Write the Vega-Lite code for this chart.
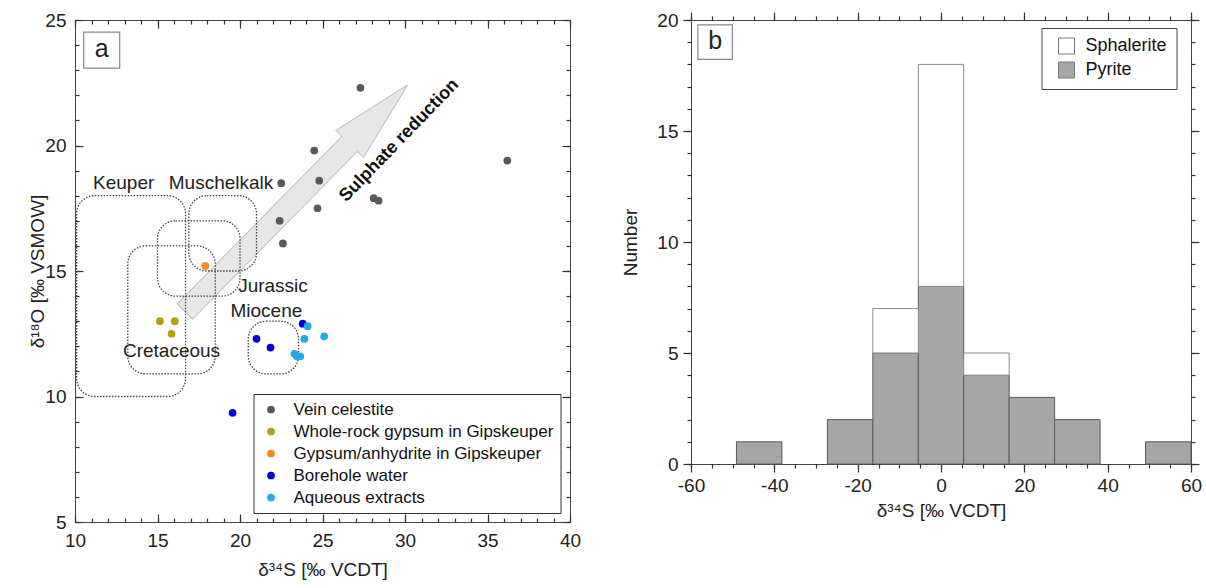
{
  "$schema": "https://vega.github.io/schema/vega-lite/v6.json",
  "background": "white",
  "padding": {"left": 28, "top": 10, "right": 5, "bottom": 5},
  "spacing": 39,
  "config": {
    "font": "Liberation Sans",
    "view": {"stroke": "#444", "strokeWidth": 1},
    "axis": {"grid": false, "domain": false, "labelFontSize": 19, "labelColor": "#222", "titleFontSize": 19, "titleFontWeight": "normal", "titleColor": "#222", "labelFlush": false, "labelOverlap": false}
  },
  "datasets": {
    "points": [
      {"d34S": 27.3, "d18O": 22.3, "group": "Vein celestite"},
      {"d34S": 24.5, "d18O": 19.8, "group": "Vein celestite"},
      {"d34S": 36.2, "d18O": 19.4, "group": "Vein celestite"},
      {"d34S": 22.5, "d18O": 18.5, "group": "Vein celestite"},
      {"d34S": 24.8, "d18O": 18.6, "group": "Vein celestite"},
      {"d34S": 28.1, "d18O": 17.9, "group": "Vein celestite"},
      {"d34S": 28.4, "d18O": 17.8, "group": "Vein celestite"},
      {"d34S": 24.7, "d18O": 17.5, "group": "Vein celestite"},
      {"d34S": 22.4, "d18O": 17.0, "group": "Vein celestite"},
      {"d34S": 22.6, "d18O": 16.1, "group": "Vein celestite"},
      {"d34S": 15.15, "d18O": 13.0, "group": "Whole-rock gypsum in Gipskeuper"},
      {"d34S": 16.05, "d18O": 13.0, "group": "Whole-rock gypsum in Gipskeuper"},
      {"d34S": 15.85, "d18O": 12.5, "group": "Whole-rock gypsum in Gipskeuper"},
      {"d34S": 17.9, "d18O": 15.2, "group": "Gypsum/anhydrite in Gipskeuper"},
      {"d34S": 23.8, "d18O": 12.9, "group": "Borehole water"},
      {"d34S": 21.0, "d18O": 12.3, "group": "Borehole water"},
      {"d34S": 21.85, "d18O": 11.95, "group": "Borehole water"},
      {"d34S": 19.55, "d18O": 9.35, "group": "Borehole water"},
      {"d34S": 24.1, "d18O": 12.8, "group": "Aqueous extracts"},
      {"d34S": 23.9, "d18O": 12.3, "group": "Aqueous extracts"},
      {"d34S": 25.1, "d18O": 12.4, "group": "Aqueous extracts"},
      {"d34S": 23.3, "d18O": 11.7, "group": "Aqueous extracts"},
      {"d34S": 23.45, "d18O": 11.6, "group": "Aqueous extracts"},
      {"d34S": 23.65, "d18O": 11.6, "group": "Aqueous extracts"}
    ],
    "regions": [
      {"name": "Keuper", "s_lo": 10.1, "s_hi": 16.7, "o_lo": 10.0, "o_hi": 18.0},
      {"name": "Muschelkalk", "s_lo": 16.9, "s_hi": 21.0, "o_lo": 15.0, "o_hi": 18.0},
      {"name": "Jurassic", "s_lo": 15.0, "s_hi": 20.0, "o_lo": 14.0, "o_hi": 17.0},
      {"name": "Cretaceous", "s_lo": 13.2, "s_hi": 18.5, "o_lo": 10.9, "o_hi": 16.0},
      {"name": "Miocene", "s_lo": 20.5, "s_hi": 23.55, "o_lo": 10.9, "o_hi": 13.0}
    ],
    "regionLabels": [
      {"label": "Keuper", "d34S": 12.95, "d18O": 18.5},
      {"label": "Muschelkalk", "d34S": 18.85, "d18O": 18.5},
      {"label": "Jurassic", "d34S": 22.0, "d18O": 14.4},
      {"label": "Miocene", "d34S": 21.6, "d18O": 13.4},
      {"label": "Cretaceous", "d34S": 15.85, "d18O": 11.8}
    ],
    "arrow": [{"d34S": 23.41, "d18O": 17.9}],
    "arrowText": [{"label": "Sulphate reduction", "d34S": 29.65, "d18O": 20.2}],
    "tagA": [{"tag": "a", "d34S": 11.62, "d18O": 23.8}],
    "hist": [
      {"bin_lo": -49.09, "bin_hi": -38.18, "mineral": "Pyrite", "count": 1},
      {"bin_lo": -27.27, "bin_hi": -16.36, "mineral": "Pyrite", "count": 2},
      {"bin_lo": -16.36, "bin_hi": -5.45, "mineral": "Pyrite", "count": 5},
      {"bin_lo": -16.36, "bin_hi": -5.45, "mineral": "Sphalerite", "count": 2},
      {"bin_lo": -5.45, "bin_hi": 5.45, "mineral": "Pyrite", "count": 8},
      {"bin_lo": -5.45, "bin_hi": 5.45, "mineral": "Sphalerite", "count": 10},
      {"bin_lo": 5.45, "bin_hi": 16.36, "mineral": "Pyrite", "count": 4},
      {"bin_lo": 5.45, "bin_hi": 16.36, "mineral": "Sphalerite", "count": 1},
      {"bin_lo": 16.36, "bin_hi": 27.27, "mineral": "Pyrite", "count": 3},
      {"bin_lo": 27.27, "bin_hi": 38.18, "mineral": "Pyrite", "count": 2},
      {"bin_lo": 49.09, "bin_hi": 60, "mineral": "Pyrite", "count": 1}
    ],
    "tagB": [{"tag": "b", "d34S": -54.2, "n": 19.0}]
  },
  "hconcat": [
    {
      "width": 495,
      "height": 502,
      "resolve": {"axis": {"x": "independent", "y": "independent"}},
      "layer": [
        {
          "data": {"name": "arrow"},
          "mark": {"type": "point", "shape": "M-1,-0.068L0.48,-0.068L0.48,-0.122L1,0L0.48,0.122L0.48,0.068L-1,0.068Z", "size": 100870, "angle": -45.5, "filled": true, "fill": "#e4e4e4", "fillOpacity": 0.9, "stroke": "#c0c0c0", "strokeWidth": 1, "opacity": 1},
          "encoding": {
            "x": {"field": "d34S", "type": "quantitative", "scale": {"domain": [10, 40], "nice": false, "zero": false},
                  "axis": {"orient": "bottom", "values": [10, 15, 20, 25, 30, 35, 40], "ticks": false, "labelPadding": 9, "title": "δ³⁴S [‰ VCDT]", "titlePadding": 10}},
            "y": {"field": "d18O", "type": "quantitative", "scale": {"domain": [5, 25], "nice": false, "zero": false},
                  "axis": {"orient": "left", "values": [5, 10, 15, 20, 25], "ticks": false, "labelPadding": 9, "title": "δ¹⁸O [‰ VSMOW]", "titlePadding": -3}}
          }
        },
        {
          "data": {"name": "regions"},
          "mark": {"type": "rect", "filled": false, "stroke": "#444", "strokeWidth": 1.3, "strokeDash": [1.5, 1.5], "cornerRadius": 18},
          "encoding": {
            "x": {"field": "s_lo", "type": "quantitative", "scale": {"domain": [10, 40], "nice": false, "zero": false},
                  "axis": {"orient": "bottom", "values": [10, 15, 20, 25, 30, 35, 40], "labels": false, "title": null, "tickColor": "#333", "tickWidth": 1.2, "tickSize": -8}},
            "x2": {"field": "s_hi"},
            "y": {"field": "o_lo", "type": "quantitative", "scale": {"domain": [5, 25], "nice": false, "zero": false},
                  "axis": {"orient": "left", "values": [5, 10, 15, 20, 25], "labels": false, "title": null, "tickColor": "#333", "tickWidth": 1.2, "tickSize": -8}},
            "y2": {"field": "o_hi"}
          }
        },
        {
          "data": {"name": "regionLabels"},
          "mark": {"type": "text", "fontSize": 19, "color": "#222", "align": "center", "baseline": "middle"},
          "encoding": {
            "x": {"field": "d34S", "type": "quantitative", "scale": {"domain": [10, 40], "nice": false, "zero": false},
                  "axis": {"orient": "bottom", "values": [10,11,12,13,14,15,16,17,18,19,20,21,22,23,24,25,26,27,28,29,30,31,32,33,34,35,36,37,38,39,40], "labels": false, "title": null, "tickColor": "#333", "tickWidth": 1.2, "tickSize": -4}},
            "y": {"field": "d18O", "type": "quantitative", "scale": {"domain": [5, 25], "nice": false, "zero": false},
                  "axis": {"orient": "left", "values": [5,6,7,8,9,10,11,12,13,14,15,16,17,18,19,20,21,22,23,24,25], "labels": false, "title": null, "tickColor": "#333", "tickWidth": 1.2, "tickSize": -4}},
            "text": {"field": "label"}
          }
        },
        {
          "data": {"name": "arrowText"},
          "mark": {"type": "text", "fontSize": 18, "fontWeight": "bold", "color": "#111", "angle": -46, "align": "center", "baseline": "middle"},
          "encoding": {
            "x": {"field": "d34S", "type": "quantitative", "scale": {"domain": [10, 40], "nice": false, "zero": false},
                  "axis": {"orient": "top", "values": [10, 15, 20, 25, 30, 35, 40], "labels": false, "title": null, "tickColor": "#333", "tickWidth": 1.2, "tickSize": -8}},
            "y": {"field": "d18O", "type": "quantitative", "scale": {"domain": [5, 25], "nice": false, "zero": false},
                  "axis": {"orient": "right", "values": [5, 10, 15, 20, 25], "labels": false, "title": null, "tickColor": "#333", "tickWidth": 1.2, "tickSize": -8}},
            "text": {"field": "label"}
          }
        },
        {
          "data": {"name": "points"},
          "mark": {"type": "circle", "size": 60, "opacity": 1},
          "encoding": {
            "x": {"field": "d34S", "type": "quantitative", "scale": {"domain": [10, 40], "nice": false, "zero": false},
                  "axis": {"orient": "top", "values": [10,11,12,13,14,15,16,17,18,19,20,21,22,23,24,25,26,27,28,29,30,31,32,33,34,35,36,37,38,39,40], "labels": false, "title": null, "tickColor": "#333", "tickWidth": 1.2, "tickSize": -4}},
            "y": {"field": "d18O", "type": "quantitative", "scale": {"domain": [5, 25], "nice": false, "zero": false},
                  "axis": {"orient": "right", "values": [5,6,7,8,9,10,11,12,13,14,15,16,17,18,19,20,21,22,23,24,25], "labels": false, "title": null, "tickColor": "#333", "tickWidth": 1.2, "tickSize": -4}},
            "color": {"field": "group", "type": "nominal",
                      "scale": {"domain": ["Vein celestite", "Whole-rock gypsum in Gipskeuper", "Gypsum/anhydrite in Gipskeuper", "Borehole water", "Aqueous extracts"],
                                "range": ["#595959", "#b5a00a", "#f58a1f", "#0000cc", "#22aae6"]},
                      "legend": {"orient": "none", "legendX": 178.5, "legendY": 374, "title": null, "strokeColor": "#333", "fillColor": "white", "padding": 7, "labelFontSize": 17, "labelColor": "#111", "symbolSize": 60, "symbolType": "circle", "rowPadding": 4, "labelOffset": 14, "symbolOffset": 2, "labelLimit": 400}}
          }
        },
        {
          "data": {"name": "tagA"},
          "mark": {"type": "point", "shape": "square", "size": 1296, "filled": true, "fill": "white", "stroke": "#888", "strokeWidth": 1.2, "opacity": 1},
          "encoding": {
            "x": {"field": "d34S", "type": "quantitative", "scale": {"domain": [10, 40], "nice": false, "zero": false}, "axis": null},
            "y": {"field": "d18O", "type": "quantitative", "scale": {"domain": [5, 25], "nice": false, "zero": false}, "axis": null}
          }
        },
        {
          "data": {"name": "tagA"},
          "mark": {"type": "text", "fontSize": 25, "color": "#222", "align": "center", "baseline": "middle", "dy": -1},
          "encoding": {
            "x": {"field": "d34S", "type": "quantitative", "scale": {"domain": [10, 40], "nice": false, "zero": false}, "axis": null},
            "y": {"field": "d18O", "type": "quantitative", "scale": {"domain": [5, 25], "nice": false, "zero": false}, "axis": null},
            "text": {"field": "tag"}
          }
        }
      ]
    },
    {
      "width": 500,
      "height": 444,
      "resolve": {"axis": {"x": "independent", "y": "independent"}},
      "layer": [
        {
          "data": {"name": "hist"},
          "transform": [
            {"stack": "count", "groupby": ["bin_lo"], "sort": [{"field": "mineral", "order": "ascending"}], "as": ["y0", "y1"]},
            {"filter": {"field": "mineral", "equal": "Pyrite"}}
          ],
          "mark": {"type": "bar", "stroke": "#5a5a5a", "strokeWidth": 1},
          "encoding": {
            "x": {"field": "bin_lo", "type": "quantitative", "scale": {"domain": [-60, 60], "nice": false, "zero": false},
                  "axis": {"orient": "bottom", "values": [-60, -40, -20, 0, 20, 40, 60], "tickColor": "#333", "tickWidth": 1.2, "tickSize": 8, "labelPadding": 4, "labelExpr": "'' + datum.value", "title": "δ³⁴S [‰ VCDT]", "titlePadding": 6}},
            "x2": {"field": "bin_hi"},
            "y": {"field": "y0", "type": "quantitative", "scale": {"domain": [0, 20], "nice": false, "zero": false},
                  "axis": {"orient": "left", "values": [0, 5, 10, 15, 20], "tickColor": "#333", "tickWidth": 1.2, "tickSize": 8, "labelPadding": 5, "title": "Number", "titlePadding": 16}},
            "y2": {"field": "y1"},
            "fill": {"field": "mineral", "type": "nominal", "scale": {"domain": ["Sphalerite", "Pyrite"], "range": ["#ffffff", "#a6a6a6"]},
                     "legend": {"orient": "none", "legendX": 966.5, "legendY": 8, "title": null, "strokeColor": "#444", "fillColor": "white", "padding": 9, "labelFontSize": 18, "labelColor": "#111", "symbolType": "square", "symbolSize": 256, "symbolStrokeColor": "#777", "symbolStrokeWidth": 1, "rowPadding": 4, "labelOffset": 10, "symbolOffset": 7}}
          }
        },
        {
          "data": {"name": "hist"},
          "transform": [
            {"stack": "count", "groupby": ["bin_lo"], "sort": [{"field": "mineral", "order": "ascending"}], "as": ["y0", "y1"]},
            {"filter": {"field": "mineral", "equal": "Sphalerite"}}
          ],
          "mark": {"type": "bar", "stroke": "#8a8a8a", "strokeWidth": 1},
          "encoding": {
            "x": {"field": "bin_lo", "type": "quantitative", "scale": {"domain": [-60, 60], "nice": false, "zero": false},
                  "axis": {"orient": "bottom", "values": [-60,-55,-50,-45,-40,-35,-30,-25,-20,-15,-10,-5,0,5,10,15,20,25,30,35,40,45,50,55,60], "labels": false, "title": null, "tickColor": "#333", "tickWidth": 1.2, "tickSize": 4}},
            "x2": {"field": "bin_hi"},
            "y": {"field": "y0", "type": "quantitative", "scale": {"domain": [0, 20], "nice": false, "zero": false},
                  "axis": {"orient": "left", "values": [0,1,2,3,4,5,6,7,8,9,10,11,12,13,14,15,16,17,18,19,20], "labels": false, "title": null, "tickColor": "#333", "tickWidth": 1.2, "tickSize": 4}},
            "y2": {"field": "y1"},
            "fill": {"field": "mineral", "type": "nominal", "scale": {"domain": ["Sphalerite", "Pyrite"], "range": ["#ffffff", "#a6a6a6"]},
                     "legend": {"orient": "none", "legendX": 966.5, "legendY": 8, "title": null, "strokeColor": "#444", "fillColor": "white", "padding": 9, "labelFontSize": 18, "labelColor": "#111", "symbolType": "square", "symbolSize": 256, "symbolStrokeColor": "#777", "symbolStrokeWidth": 1, "rowPadding": 4, "labelOffset": 10, "symbolOffset": 7}}
          }
        },
        {
          "data": {"name": "tagB"},
          "mark": {"type": "point", "shape": "square", "size": 1190, "filled": true, "fill": "white", "stroke": "#888", "strokeWidth": 1.2, "opacity": 1},
          "encoding": {
            "x": {"field": "d34S", "type": "quantitative", "scale": {"domain": [-60, 60], "nice": false, "zero": false},
                  "axis": {"orient": "top", "values": [-60, -40, -20, 0, 20, 40, 60], "labels": false, "title": null, "tickColor": "#333", "tickWidth": 1.2, "tickSize": 8}},
            "y": {"field": "n", "type": "quantitative", "scale": {"domain": [0, 20], "nice": false, "zero": false},
                  "axis": {"orient": "right", "values": [0, 5, 10, 15, 20], "labels": false, "title": null, "tickColor": "#333", "tickWidth": 1.2, "tickSize": 8}}
          }
        },
        {
          "data": {"name": "tagB"},
          "mark": {"type": "text", "fontSize": 25, "color": "#222", "align": "center", "baseline": "middle", "dy": -1},
          "encoding": {
            "x": {"field": "d34S", "type": "quantitative", "scale": {"domain": [-60, 60], "nice": false, "zero": false},
                  "axis": {"orient": "top", "values": [-60,-55,-50,-45,-40,-35,-30,-25,-20,-15,-10,-5,0,5,10,15,20,25,30,35,40,45,50,55,60], "labels": false, "title": null, "tickColor": "#333", "tickWidth": 1.2, "tickSize": 4}},
            "y": {"field": "n", "type": "quantitative", "scale": {"domain": [0, 20], "nice": false, "zero": false},
                  "axis": {"orient": "right", "values": [0,1,2,3,4,5,6,7,8,9,10,11,12,13,14,15,16,17,18,19,20], "labels": false, "title": null, "tickColor": "#333", "tickWidth": 1.2, "tickSize": 4}},
            "text": {"field": "tag"}
          }
        }
      ]
    }
  ]
}
